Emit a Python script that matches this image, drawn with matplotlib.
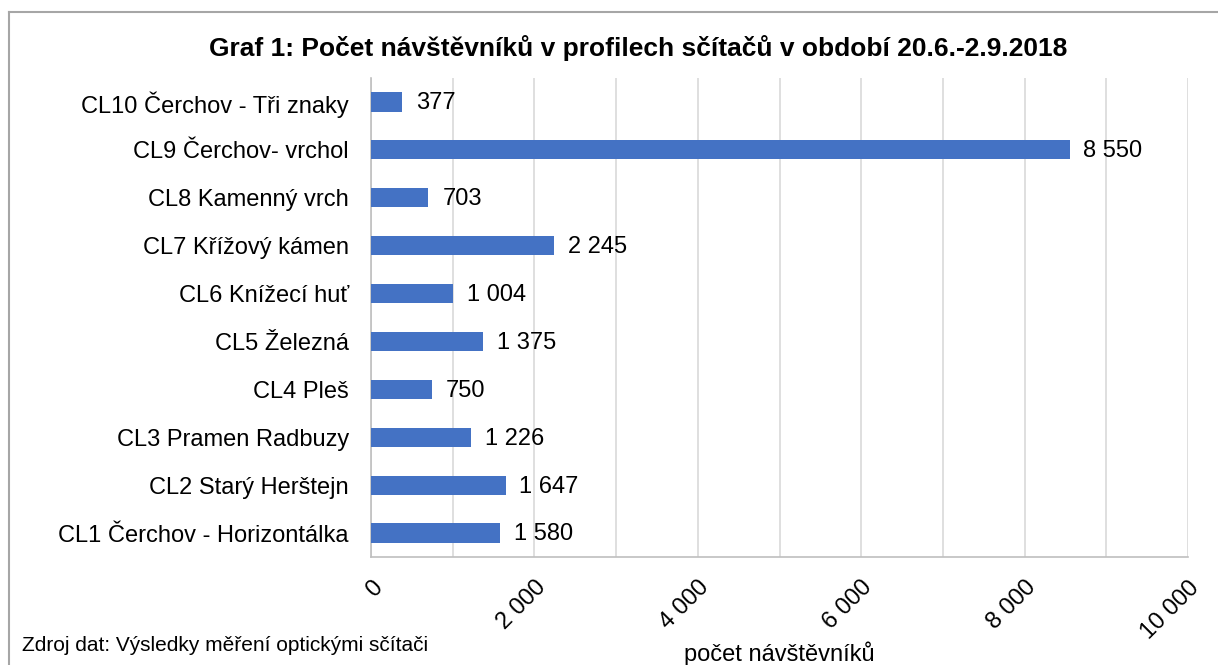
import matplotlib
matplotlib.use('Agg')
import matplotlib.pyplot as plt
from matplotlib.lines import Line2D

# data
kategorie = ['CL1 Čerchov - Horizontálka', 'CL2 Starý Herštejn', 'CL3 Pramen Radbuzy',
             'CL4 Pleš', 'CL5 Železná', 'CL6 Knížecí huť', 'CL7 Křížový kámen',
             'CL8 Kamenný vrch', 'CL9 Čerchov- vrchol', 'CL10 Čerchov - Tři znaky']
navstevnici = [1580, 1647, 1226, 750, 1375, 1004, 2245, 703, 8550, 377]
x_ticks = [0, 2000, 4000, 6000, 8000, 10000]
x_tick_labels = ['0', '2 000', '4 000', '6 000', '8 000', '10 000']
x_grid = [0, 1000, 2000, 3000, 4000, 5000, 6000, 7000, 8000, 9000, 10000]

plt.rcParams['font.family'] = ['Liberation Sans', 'DejaVu Sans']

fig = plt.figure(figsize=(12.18, 6.65), dpi=100)
ax = fig.add_axes([0.3046, 0.1624, 0.6708, 0.7203])

y = list(range(len(kategorie)))
ax.barh(y, navstevnici, height=0.4, color='#4472C4', zorder=3)
for yi, v in zip(y, navstevnici):
    txt = f'{v:,}'.replace(',', ' ')
    ax.annotate(txt, (v, yi), xytext=(10, -1), textcoords='offset points',
                va='center', ha='left', fontsize=17)

ax.set_xlim(0, 10000)
ax.set_ylim(-0.5, len(kategorie) - 0.5)
ax.set_yticks(y)
ax.set_yticklabels(kategorie, fontsize=17)
ax.set_xticks(x_grid, minor=True)
ax.set_xticks(x_ticks)
ax.set_xticklabels(x_tick_labels, fontsize=17, rotation=45, ha='right',
                   rotation_mode='anchor')
ax.tick_params(axis='both', length=0)
ax.tick_params(axis='x', which='minor', length=0)
ax.tick_params(axis='x', pad=14)
ax.tick_params(axis='y', pad=16)
ax.grid(True, axis='x', which='both', color='#D9D9D9', linewidth=1.2, zorder=0)
for s in ['top', 'right']:
    ax.spines[s].set_visible(False)
ax.spines['left'].set_color('#BFBFBF')
ax.spines['bottom'].set_color('#BFBFBF')
ax.spines['left'].set_linewidth(1.2)
ax.spines['bottom'].set_linewidth(1.2)

fig.text(0.524, 0.928, 'Graf 1: Počet návštěvníků v profilech sčítačů v období 20.6.-2.9.2018',
         ha='center', va='center', fontsize=19, fontweight='bold')
fig.text(0.64, 0.017, 'počet návštěvníků', ha='center', va='center', fontsize=17)
fig.text(0.018, 0.03, 'Zdroj dat: Výsledky měření optickými sčítači', ha='left',
         va='center', fontsize=15)

# ramecek
fig.add_artist(Line2D([0.0075, 1.0], [0.982, 0.982], transform=fig.transFigure,
                      color='#A6A6A6', linewidth=1.5))
fig.add_artist(Line2D([0.0075, 0.0075], [0.0, 0.982], transform=fig.transFigure,
                      color='#A6A6A6', linewidth=1.5))

fig.savefig('out.png', dpi=100)
